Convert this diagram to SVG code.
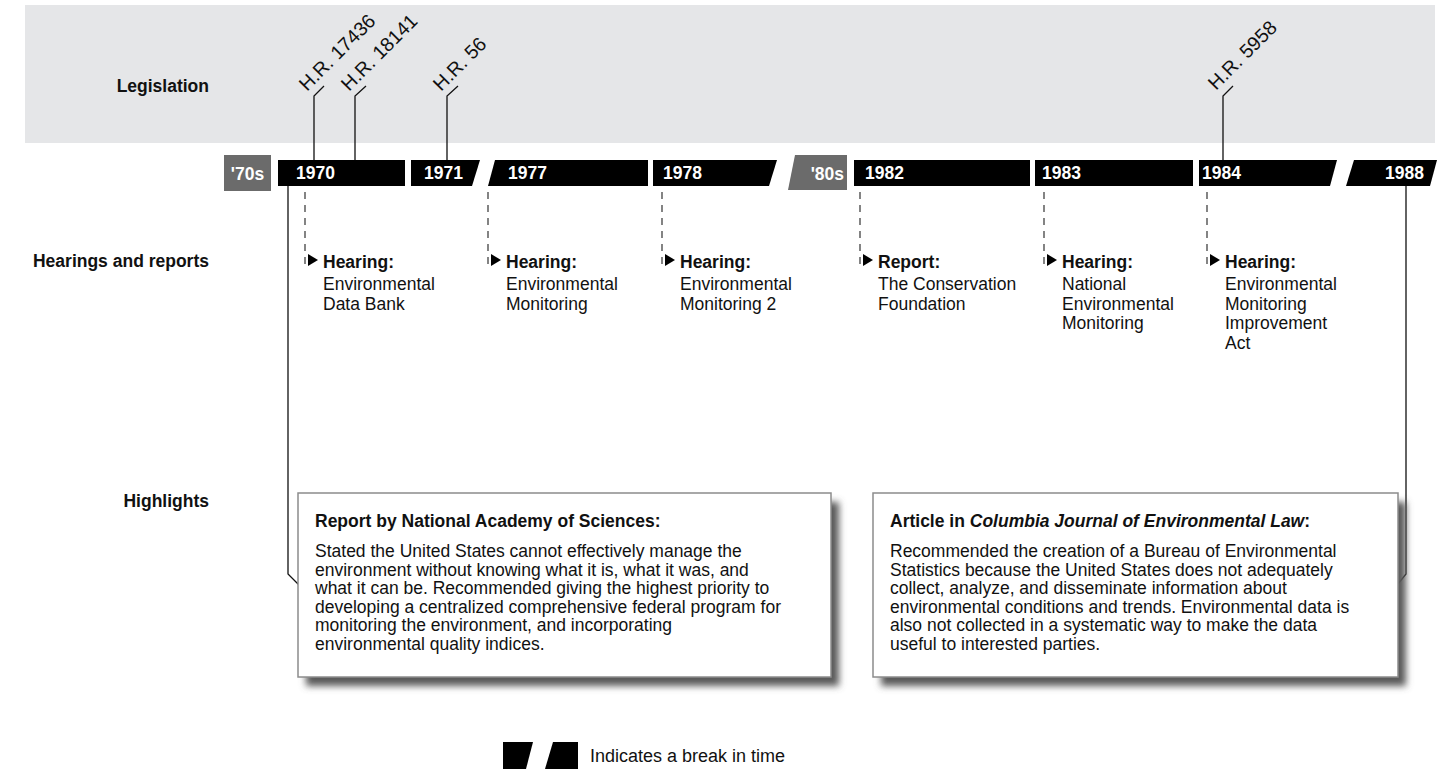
<svg xmlns="http://www.w3.org/2000/svg" width="1448" height="774" viewBox="0 0 1448 774">
  <style>
    text { font-family: "Liberation Sans", Arial, Helvetica, sans-serif; fill: #111; }
    .lbl { font-size: 17.5px; font-weight: bold; }
    .yr { font-size: 17.5px; font-weight: bold; fill: #fff; }
    .bill { font-size: 19.5px; }
    .hd { font-size: 17.5px; font-weight: bold; }
    .tx { font-size: 17.5px; }
    .bar { fill: #000; }
    .decade { fill: #6b6b6b; }
    .conn { stroke: #111; stroke-width: 1.3; fill: none; }
    .dash { stroke: #333; stroke-width: 1.2; stroke-dasharray: 7 6; fill: none; }
    .tri { fill: #000; }
    .box { fill: #fff; stroke: #8c8c8c; stroke-width: 1.5; }
    .shadow { fill: #5a5a5a; filter: url(#soft); }
  </style>
  <defs>
    <filter id="soft" x="-10%" y="-10%" width="120%" height="130%">
      <feGaussianBlur stdDeviation="3.5"/>
    </filter>
  </defs>

  <rect width="1448" height="774" fill="#fff"/>

  <!-- legislation band -->
  <rect x="25" y="5" width="1410" height="138" fill="#e5e6e8"/>

  <!-- row labels -->
  <g id="row-labels">
    <text class="lbl" x="209" y="92" text-anchor="end">Legislation</text>
    <text class="lbl" x="209" y="267" text-anchor="end">Hearings and reports</text>
    <text class="lbl" x="209" y="507" text-anchor="end">Highlights</text>
  </g>

  <!-- connectors: bill leaders, dashed hearing leaders, highlight leaders -->
  <g id="connectors">
    <path class="conn" d="M314 160 V96 L324 86"/>
    <path class="conn" d="M355 160 V96 L366 86"/>
    <path class="conn" d="M447 160 V96 L458 86"/>
    <path class="conn" d="M1223 160 V96 L1233 86"/>

    <path class="dash" d="M305 192 V268"/>
    <path class="dash" d="M488 192 V268"/>
    <path class="dash" d="M662 192 V268"/>
    <path class="dash" d="M860 192 V268"/>
    <path class="dash" d="M1044 192 V268"/>
    <path class="dash" d="M1207 192 V268"/>

    <path class="conn" d="M288 186 V574 L299 585"/>
    <path class="conn" d="M1406 186 V574 L1398 584"/>
  </g>

  <!-- timeline -->
  <g id="timeline">
    <g id="d70s">
      <rect class="decade" x="224" y="155" width="47" height="36"/>
      <text class="yr" x="247.5" y="180" text-anchor="middle">'70s</text>
    </g>
    <g id="y1970">
      <rect class="bar" x="278" y="160" width="127" height="26"/>
      <text class="yr" x="296" y="179">1970</text>
    </g>
    <g id="y1971">
      <polygon class="bar" points="411,160 480,160 472,186 411,186"/>
      <text class="yr" x="424" y="179">1971</text>
    </g>
    <g id="y1977">
      <polygon class="bar" points="495,160 648,160 648,186 488,186"/>
      <text class="yr" x="508" y="179">1977</text>
    </g>
    <g id="y1978">
      <polygon class="bar" points="653,160 777,160 769,186 653,186"/>
      <text class="yr" x="663" y="179">1978</text>
    </g>
    <g id="d80s">
      <polygon class="decade" points="795,155 847,155 847,190 788,190"/>
      <text class="yr" x="844" y="180" text-anchor="end">'80s</text>
    </g>
    <g id="y1982">
      <rect class="bar" x="854" y="160" width="176" height="26"/>
      <text class="yr" x="865" y="179">1982</text>
    </g>
    <g id="y1983">
      <rect class="bar" x="1035" y="160" width="158" height="26"/>
      <text class="yr" x="1042" y="179">1983</text>
    </g>
    <g id="y1984">
      <polygon class="bar" points="1199,160 1337,160 1330,186 1199,186"/>
      <text class="yr" x="1202" y="179">1984</text>
    </g>
    <g id="y1988">
      <polygon class="bar" points="1354,160 1437,160 1430,186 1346,186"/>
      <text class="yr" x="1424" y="179" text-anchor="end">1988</text>
    </g>
  </g>

  <!-- bills -->
  <g id="bill-17436"><text class="bill" transform="translate(307 92) rotate(-45)">H.R. 17436</text></g>
  <g id="bill-18141"><text class="bill" transform="translate(349 92) rotate(-45)">H.R. 18141</text></g>
  <g id="bill-56"><text class="bill" transform="translate(441 92) rotate(-45)">H.R. 56</text></g>
  <g id="bill-5958"><text class="bill" transform="translate(1216 91) rotate(-45)">H.R. 5958</text></g>

  <!-- hearings and reports -->
  <g id="h1970">
    <polygon class="tri" points="308,254 318,260 308,266"/>
    <text x="323" y="268"><tspan class="hd">Hearing:</tspan><tspan class="tx" x="323" y="290">Environmental</tspan><tspan class="tx" x="323" y="309.5">Data Bank</tspan></text>
  </g>
  <g id="h1977">
    <polygon class="tri" points="491,254 501,260 491,266"/>
    <text x="506" y="268"><tspan class="hd">Hearing:</tspan><tspan class="tx" x="506" y="290">Environmental</tspan><tspan class="tx" x="506" y="309.5">Monitoring</tspan></text>
  </g>
  <g id="h1978">
    <polygon class="tri" points="665,254 675,260 665,266"/>
    <text x="680" y="268"><tspan class="hd">Hearing:</tspan><tspan class="tx" x="680" y="290">Environmental</tspan><tspan class="tx" x="680" y="309.5">Monitoring 2</tspan></text>
  </g>
  <g id="r1982">
    <polygon class="tri" points="863,254 873,260 863,266"/>
    <text x="878" y="268"><tspan class="hd">Report:</tspan><tspan class="tx" x="878" y="290">The Conservation</tspan><tspan class="tx" x="878" y="309.5">Foundation</tspan></text>
  </g>
  <g id="h1983">
    <polygon class="tri" points="1047,254 1057,260 1047,266"/>
    <text x="1062" y="268"><tspan class="hd">Hearing:</tspan><tspan class="tx" x="1062" y="290">National</tspan><tspan class="tx" x="1062" y="309.5">Environmental</tspan><tspan class="tx" x="1062" y="329">Monitoring</tspan></text>
  </g>
  <g id="h1984">
    <polygon class="tri" points="1210,254 1220,260 1210,266"/>
    <text x="1225" y="268"><tspan class="hd">Hearing:</tspan><tspan class="tx" x="1225" y="290">Environmental</tspan><tspan class="tx" x="1225" y="309.5">Monitoring</tspan><tspan class="tx" x="1225" y="329">Improvement</tspan><tspan class="tx" x="1225" y="348.5">Act</tspan></text>
  </g>

  <!-- highlights -->
  <g id="highlight-nas">
    <rect class="shadow" x="306" y="502" width="533" height="184"/>
    <rect class="box" x="298" y="493" width="533" height="184"/>
    <text class="hd" x="315" y="527">Report by National Academy of Sciences:</text>
    <text class="tx">
      <tspan x="315" y="557">Stated the United States cannot effectively manage the</tspan>
      <tspan x="315" y="575.5">environment without knowing what it is, what it was, and</tspan>
      <tspan x="315" y="594">what it can be. Recommended giving the highest priority to</tspan>
      <tspan x="315" y="612.5">developing a centralized comprehensive federal program for</tspan>
      <tspan x="315" y="631">monitoring the environment, and incorporating</tspan>
      <tspan x="315" y="649.5">environmental quality indices.</tspan>
    </text>
  </g>
  <g id="highlight-article">
    <rect class="shadow" x="881" y="502" width="525" height="184"/>
    <rect class="box" x="873" y="493" width="525" height="184"/>
    <text class="hd" x="890" y="527">Article in <tspan font-style="italic">Columbia Journal of Environmental Law</tspan>:</text>
    <text class="tx">
      <tspan x="890" y="557">Recommended the creation of a Bureau of Environmental</tspan>
      <tspan x="890" y="575.5">Statistics because the United States does not adequately</tspan>
      <tspan x="890" y="594">collect, analyze, and disseminate information about</tspan>
      <tspan x="890" y="612.5">environmental conditions and trends. Environmental data is</tspan>
      <tspan x="890" y="631">also not collected in a systematic way to make the data</tspan>
      <tspan x="890" y="649.5">useful to interested parties.</tspan>
    </text>
  </g>

  <!-- key -->
  <g id="key">
    <polygon class="bar" points="503,742 533,742 526,769 503,769"/>
    <polygon class="bar" points="553,742 578,742 578,769 545,769"/>
    <text class="tx" x="590" y="762" style="font-size:18px">Indicates a break in time</text>
  </g>
</svg>
